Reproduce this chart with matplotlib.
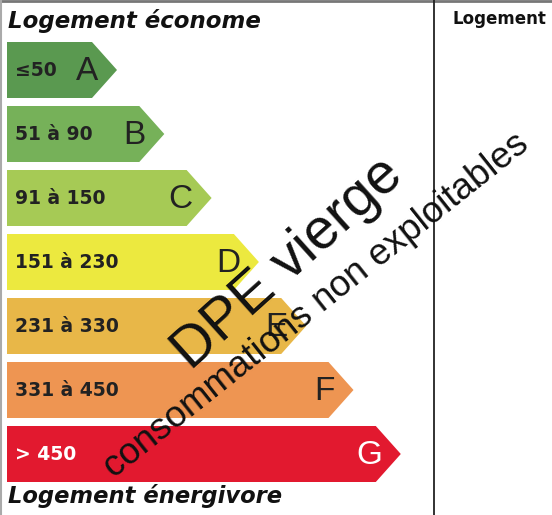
import matplotlib.pyplot as plt
from matplotlib.patches import Polygon

# energy classes
letters = ["A", "B", "C", "D", "E", "F", "G"]
ranges = ["≤50", "51 à 90", "91 à 150", "151 à 230", "231 à 330", "331 à 450", "> 450"]
colors = ["#5a9950", "#76b159", "#a6ca55", "#ece93f", "#e8b748", "#ee9552", "#e2192f"]
text_colors = ["#222222"] * 6 + ["white"]

W, H = 552, 515
fig = plt.figure(figsize=(W / 100, H / 100), dpi=100)
ax = fig.add_axes([0, 0, 1, 1])
ax.set_xlim(0, W)
ax.set_ylim(H, 0)
ax.axis("off")

# frame bits
ax.plot([0, W], [1, 1], color="#777777", lw=2)
ax.plot([1, 1], [0, H], color="#aaaaaa", lw=1.5)
ax.plot([434, 434], [0, H], color="#222222", lw=1.3)

# arrows
x0, top0, step, hgt = 7, 42, 64, 56
tip0, tipstep, depth = 117, 47.3, 25
for i, (let, rng, col, tc) in enumerate(zip(letters, ranges, colors, text_colors)):
    top = top0 + i * step
    bot = top + hgt
    mid = (top + bot) / 2
    tip = tip0 + i * tipstep
    poly = Polygon([(x0, top), (tip - depth, top), (tip, mid), (tip - depth, bot), (x0, bot)],
                   closed=True, facecolor=col, edgecolor="none")
    ax.add_patch(poly)
    ax.text(15, mid + 1, rng, fontsize=13.5, fontweight="bold", family="DejaVu Sans",
            color=tc, ha="left", va="center")
    ax.text(tip - 19, mid + 1, let, fontsize=24, family="Liberation Sans",
            color=tc, ha="right", va="center")

# titles
ax.text(8, 28, "Logement économe", fontsize=16.5, fontweight="bold", style="italic",
        family="DejaVu Sans", color="#111111", ha="left", va="baseline")
ax.text(8, 503, "Logement énergivore", fontsize=16.3, fontweight="bold", style="italic",
        family="DejaVu Sans", color="#111111", ha="left", va="baseline")
ax.text(452, 24, "Logement", fontsize=12, fontweight="bold",
        family="DejaVu Sans", color="#111111", ha="left", va="baseline")

# watermark
ax.text(288, 264, "DPE vierge", fontsize=41, family="Liberation Sans", color="#111111",
        rotation=42, ha="center", va="center", rotation_mode="anchor")
ax.text(316, 306, "consommations non exploitables", fontsize=26.5, family="Liberation Sans",
        color="#111111", rotation=38.5, ha="center", va="center", rotation_mode="anchor")

fig.savefig("out.png", dpi=100)
